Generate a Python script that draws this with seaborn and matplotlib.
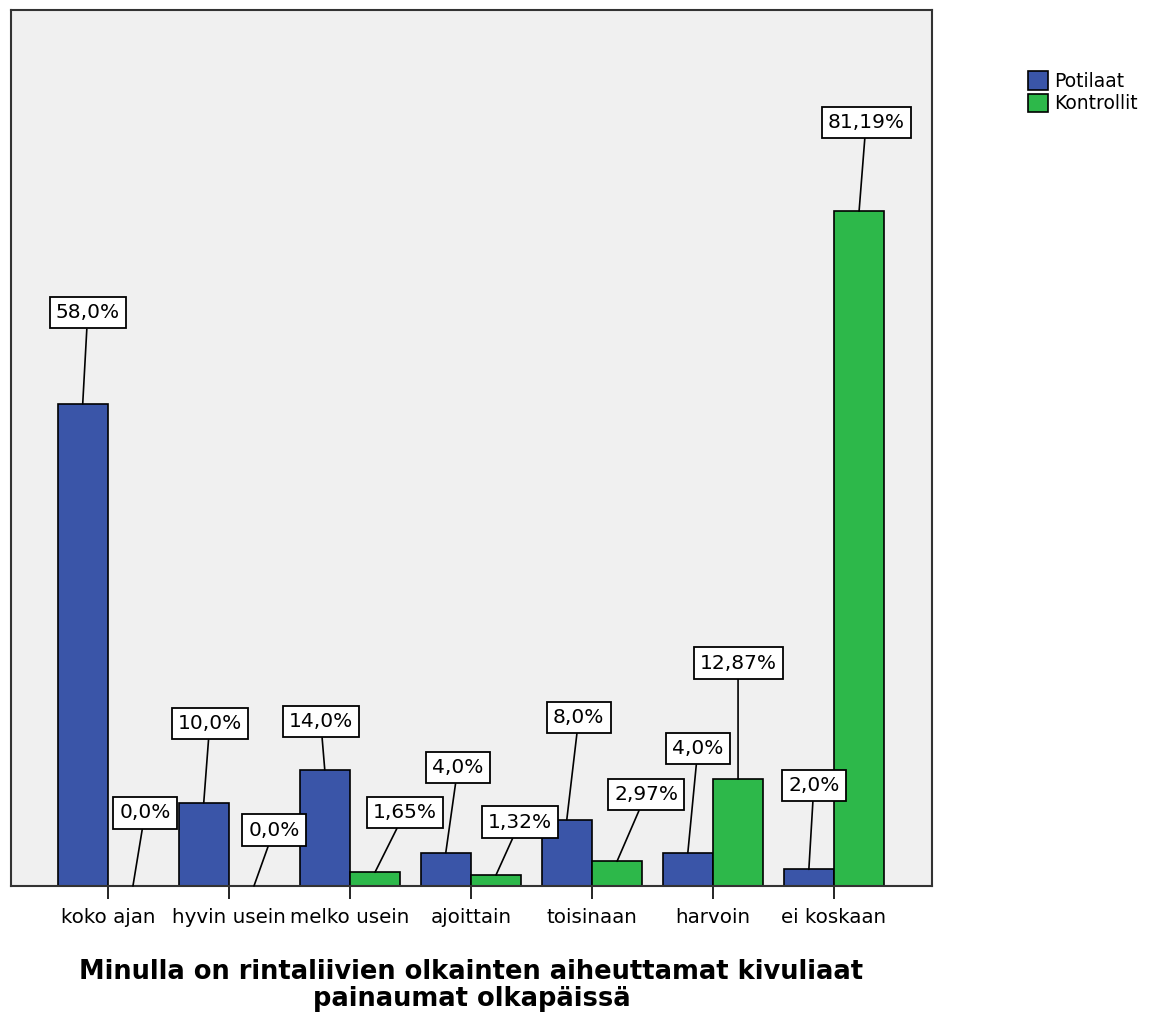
import pandas as pd
import matplotlib
matplotlib.use('Agg')
import matplotlib.pyplot as plt
import seaborn as sns

# Values
categories = ['koko ajan', 'hyvin usein', 'melko usein', 'ajoittain', 'toisinaan', 'harvoin', 'ei koskaan']
groups = ['Potilaat', 'Kontrollit']
potilaat = [58.0, 10.0, 14.0, 4.0, 8.0, 4.0, 2.0]
kontrollit = [0.0, 0.0, 1.65, 1.32, 2.97, 12.87, 81.19]
potilaat_labels = ['58,0%', '10,0%', '14,0%', '4,0%', '8,0%', '4,0%', '2,0%']
kontrollit_labels = ['0,0%', '0,0%', '1,65%', '1,32%', '2,97%', '12,87%', '81,19%']

# label box offsets in pixels (dx, dy) from the bar top
potilaat_offsets = [(5, 91), (6, 79), (-4, 48), (12, 85), (12, 102), (10, 104), (5, 84)]
kontrollit_offsets = [(12, 73), (20, 56), (30, 60), (24, 53), (29, 67), (0, 116), (7, 89)]

df = pd.DataFrame({
    'kategoria': categories * 2,
    'ryhmä': ['Potilaat'] * len(categories) + ['Kontrollit'] * len(categories),
    'prosentti': potilaat + kontrollit,
})

sns.set_style('white')
plt.rcParams['font.family'] = ['DejaVu Sans']
plt.rcParams['text.color'] = 'black'
plt.rcParams['xtick.color'] = 'black'

fig = plt.figure(figsize=(11.51, 10.17), dpi=100)
ax = fig.add_axes([11 / 1151, 131 / 1017, 921 / 1151, 876 / 1017])
ax.set_facecolor('#f0f0f0')

palette = {'Potilaat': '#3a55a8', 'Kontrollit': '#2db84a'}
sns.barplot(data=df, x='kategoria', y='prosentti', hue='ryhmä', order=categories,
            hue_order=groups, palette=palette, width=0.83, saturation=1,
            edgecolor='black', linewidth=1.2, ax=ax, legend=True)

ax.set_xlim(-0.8, 6.81)
ax.set_ylim(0, 105.4)
ax.set_yticks([])
ax.set_xlabel('Minulla on rintaliivien olkainten aiheuttamat kivuliaat\npainaumat olkapäissä',
              fontsize=18.5, fontweight='bold', labelpad=23, linespacing=1.05,
              color='black')
ax.set_ylabel('')
ax.tick_params(axis='x', bottom=True, length=9, width=1.2, color='black',
               labelsize=14.3, pad=7, labelcolor='black')
for s in ax.spines.values():
    s.set_color('#333333')
    s.set_linewidth(1.5)

# value labels with leader lines
half = 0.83 / 4
for i in range(len(categories)):
    for j, (vals, labs, offs) in enumerate([(potilaat, potilaat_labels, potilaat_offsets),
                                            (kontrollit, kontrollit_labels, kontrollit_offsets)]):
        x = i - half if j == 0 else i + half
        ax.annotate(labs[i], xy=(x, vals[i]), xytext=offs[i], textcoords='offset pixels',
                    ha='center', va='center', fontsize=14.5, color='black',
                    bbox=dict(boxstyle='square,pad=0.3', fc='white', ec='black', lw=1.3),
                    arrowprops=dict(arrowstyle='-', color='black', lw=1.2,
                                    shrinkA=0, shrinkB=0))

leg = ax.legend(loc='upper left', bbox_to_anchor=(1.104, 0.93), frameon=False,
                fontsize=13.5, handlelength=1.1, handleheight=1.15, handletextpad=0.3,
                labelspacing=0.15, borderaxespad=0, borderpad=0)
for h in leg.legend_handles:
    h.set_edgecolor('black')

fig.savefig('out.png', dpi=100)
